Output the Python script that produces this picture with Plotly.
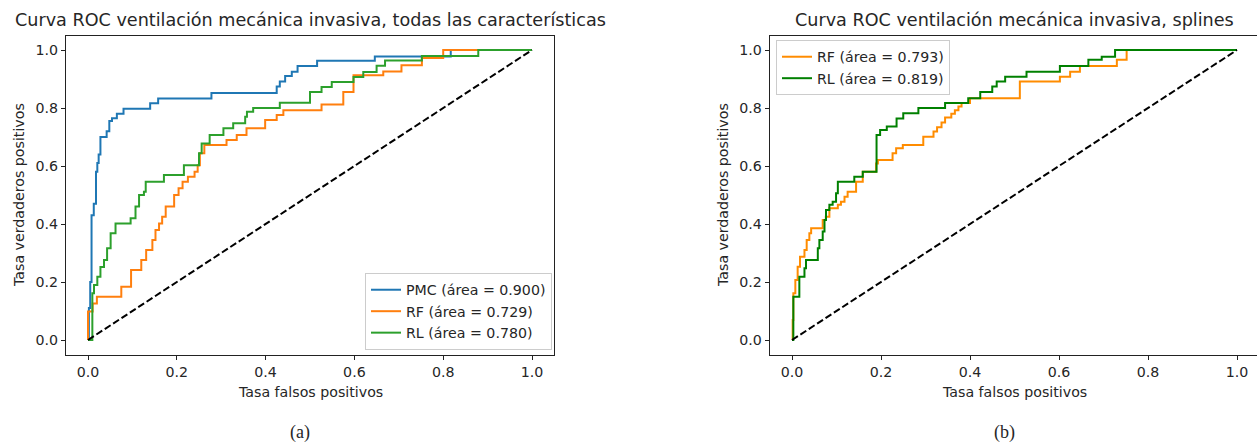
import plotly.graph_objects as go

# ---------------- data ----------------
# Left panel: all features. Points are (fpr, tpr) corners of a step ROC curve.
pmc_fpr = [0, 0.002, 0.005, 0.008, 0.013, 0.018, 0.021, 0.024, 0.028, 0.042, 0.048, 0.054,
           0.065, 0.080, 0.140, 0.158, 0.278, 0.425, 0.432, 0.444, 0.459, 0.472, 0.516,
           0.646, 0.817, 1.0]
pmc_tpr = [0, 0.110, 0.200, 0.430, 0.470, 0.580, 0.610, 0.640, 0.700, 0.720, 0.755, 0.765,
           0.780, 0.797, 0.816, 0.833, 0.852, 0.874, 0.891, 0.910, 0.925, 0.945, 0.963,
           0.978, 1.0, 1.0]

rf_a_fpr = [0, 0, 0.0105, 0.020, 0.075, 0.097, 0.120, 0.131, 0.145, 0.152, 0.160, 0.167,
            0.175, 0.194, 0.204, 0.213, 0.225, 0.240, 0.247, 0.252, 0.262, 0.312, 0.335,
            0.357, 0.399, 0.425, 0.440, 0.526, 0.575, 0.598, 0.665, 0.706, 0.752, 0.800, 1.0]
rf_a_tpr = [0, 0.098, 0.126, 0.149, 0.184, 0.241, 0.276, 0.310, 0.345, 0.379, 0.402, 0.425,
            0.460, 0.500, 0.523, 0.546, 0.563, 0.580, 0.603, 0.644, 0.672, 0.690, 0.707,
            0.730, 0.759, 0.776, 0.792, 0.812, 0.855, 0.913, 0.926, 0.947, 0.972, 1.0, 1.0]

rl_a_fpr = [0, 0.0098, 0.0135, 0.021, 0.028, 0.036, 0.043, 0.051, 0.062, 0.096, 0.107,
            0.115, 0.126, 0.130, 0.171, 0.216, 0.250, 0.256, 0.274, 0.305, 0.327, 0.354,
            0.358, 0.372, 0.432, 0.500, 0.526, 0.549, 0.598, 0.620, 0.650, 0.669, 0.752,
            0.879, 1.0]
rl_a_tpr = [0, 0.161, 0.190, 0.218, 0.252, 0.276, 0.316, 0.368, 0.402, 0.420, 0.460,
            0.500, 0.511, 0.546, 0.569, 0.603, 0.644, 0.678, 0.707, 0.730, 0.747, 0.770,
            0.787, 0.800, 0.818, 0.855, 0.872, 0.890, 0.907, 0.924, 0.946, 0.964, 0.979,
            1.0, 1.0]

# Right panel: splines
rf_b_fpr = [0, 0.0015, 0.003, 0.0075, 0.0127, 0.018, 0.028, 0.033, 0.039, 0.043, 0.069,
            0.076, 0.084, 0.103, 0.110, 0.118, 0.125, 0.144, 0.159, 0.189, 0.193, 0.226,
            0.234, 0.249, 0.295, 0.318, 0.326, 0.336, 0.344, 0.358, 0.366, 0.374, 0.381,
            0.400, 0.512, 0.602, 0.625, 0.647, 0.730, 0.752, 1.0]
rf_b_tpr = [0, 0.069, 0.161, 0.207, 0.253, 0.287, 0.310, 0.345, 0.368, 0.385, 0.414,
            0.425, 0.454, 0.466, 0.477, 0.494, 0.511, 0.546, 0.580, 0.609, 0.621, 0.644,
            0.661, 0.672, 0.701, 0.719, 0.734, 0.750, 0.767, 0.780, 0.792, 0.805, 0.817,
            0.834, 0.891, 0.908, 0.925, 0.945, 0.966, 1.0, 1.0]

rl_b_fpr = [0, 0.003, 0.0165, 0.028, 0.0315, 0.058, 0.0615, 0.069, 0.073, 0.0764, 0.084,
            0.0914, 0.099, 0.103, 0.140, 0.159, 0.190, 0.198, 0.213, 0.235, 0.250, 0.284,
            0.344, 0.396, 0.423, 0.450, 0.460, 0.479, 0.527, 0.602, 0.666, 0.696, 0.726, 1.0]
rl_b_tpr = [0, 0.149, 0.218, 0.247, 0.276, 0.316, 0.345, 0.374, 0.414, 0.448, 0.466,
            0.477, 0.506, 0.546, 0.563, 0.580, 0.707, 0.724, 0.736, 0.764, 0.782, 0.800,
            0.817, 0.834, 0.855, 0.874, 0.891, 0.908, 0.925, 0.945, 0.966, 0.977, 1.0, 1.0]

diag = [0, 1]

names_a = ["PMC (área = 0.900)", "RF (área = 0.729)", "RL (área = 0.780)"]
names_b = ["RF (área = 0.793)", "RL (área = 0.819)"]
tick_vals = [0, 0.2, 0.4, 0.6, 0.8, 1.0]
tick_text = ["0.0", "0.2", "0.4", "0.6", "0.8", "1.0"]

title_a = "Curva ROC ventilación mecánica invasiva, todas las características"
title_b = "Curva ROC ventilación mecánica invasiva, splines"
xlab = "Tasa falsos positivos"
ylab = "Tasa verdaderos positivos"

# ---------------- figure ----------------
W, H = 1257, 443
FONT = "DejaVu Sans"
TXT = "#262626"
FS = 14.2       # ticks, legend, axis labels
FS_T = 17.6     # titles

fig = go.Figure()

def step(x, y, name, color, xa, ya, leg):
    fig.add_trace(go.Scatter(x=x, y=y, mode="lines", name=name, line_shape="hv",
                             line=dict(color=color, width=2),
                             xaxis=xa, yaxis=ya, legend=leg))

step(pmc_fpr, pmc_tpr, names_a[0], "#1f77b4", "x", "y", "legend")
step(rf_a_fpr, rf_a_tpr, names_a[1], "#ff7f0e", "x", "y", "legend")
step(rl_a_fpr, rl_a_tpr, names_a[2], "#2ca02c", "x", "y", "legend")
fig.add_trace(go.Scatter(x=diag, y=diag, mode="lines", showlegend=False,
                         line=dict(color="black", width=2, dash="7px,3px"),
                         xaxis="x", yaxis="y"))

step(rf_b_fpr, rf_b_tpr, names_b[0], "#ff8c00", "x2", "y2", "legend2")
step(rl_b_fpr, rl_b_tpr, names_b[1], "#008000", "x2", "y2", "legend2")
fig.add_trace(go.Scatter(x=diag, y=diag, mode="lines", showlegend=False,
                         line=dict(color="black", width=2, dash="7px,3px"),
                         xaxis="x2", yaxis="y2"))

# pixel geometry
axL = (65.8, 554.2)
axR = (769.75, 1257.0)
top_px, bot_px = 35.5, 354.5
ydom = [(H - bot_px) / H, (H - top_px) / H]

common_axis = dict(showgrid=False, zeroline=False, showline=True, linecolor="#222",
                   linewidth=1, ticks="outside", ticklen=4, tickcolor="#222",
                   tickvals=tick_vals, ticktext=tick_text,
                   tickfont=dict(family=FONT, size=FS, color=TXT))

fig.update_layout(
    width=W, height=H, autosize=False,
    margin=dict(l=0, r=0, t=0, b=0),
    paper_bgcolor="white", plot_bgcolor="white",
    font=dict(family=FONT, size=FS, color=TXT),
    xaxis=dict(domain=[axL[0] / W, axL[1] / W], range=[-0.05, 1.05], mirror=True,
               anchor="y", **common_axis),
    yaxis=dict(domain=ydom, range=[-0.05, 1.05], mirror=True, anchor="x", **common_axis),
    xaxis2=dict(domain=[axR[0] / W, 1.0],
                range=[-0.05, (axR[1] - axR[0]) / 445.0 - 0.05], mirror=True,
                anchor="y2", **common_axis),
    yaxis2=dict(domain=ydom, range=[-0.05, 1.05], mirror=False, anchor="x2", **common_axis),
    legend=dict(x=552 / W, y=(H - 350) / H, xanchor="right", yanchor="bottom",
                bgcolor="rgba(255,255,255,0.8)", bordercolor="#cccccc", borderwidth=1,
                itemwidth=30, tracegroupgap=0,
                font=dict(family=FONT, size=FS, color=TXT)),
    legend2=dict(x=776 / W, y=(H - 40) / H, xanchor="left", yanchor="top",
                 bgcolor="rgba(255,255,255,0.8)", bordercolor="#cccccc", borderwidth=1,
                 itemwidth=30, tracegroupgap=0,
                 font=dict(family=FONT, size=FS, color=TXT)),
)

def ann(text, xpx, ypx, size, angle=0, family=FONT):
    fig.add_annotation(text=text, x=xpx / W, y=(H - ypx) / H, xref="paper", yref="paper",
                       showarrow=False, xanchor="center", yanchor="middle",
                       textangle=angle, font=dict(family=family, size=size, color=TXT))

midL = (axL[0] + axL[1]) / 2
midR = (axR[0] + 1259.25) / 2
ymid = (top_px + bot_px) / 2

ann(title_a, midL, 20, FS_T)
ann(title_b, midR, 20, FS_T)
ann(xlab, midL, 392, FS)
ann(xlab, midR, 392, FS)
ann(ylab, 19, ymid, FS, angle=-90)
ann(ylab, 723, ymid, FS, angle=-90)
ann("(a)", 300, 432, 18, family="Liberation Serif")
ann("(b)", 1005, 432, 18, family="Liberation Serif")

fig.write_html("out.html")
